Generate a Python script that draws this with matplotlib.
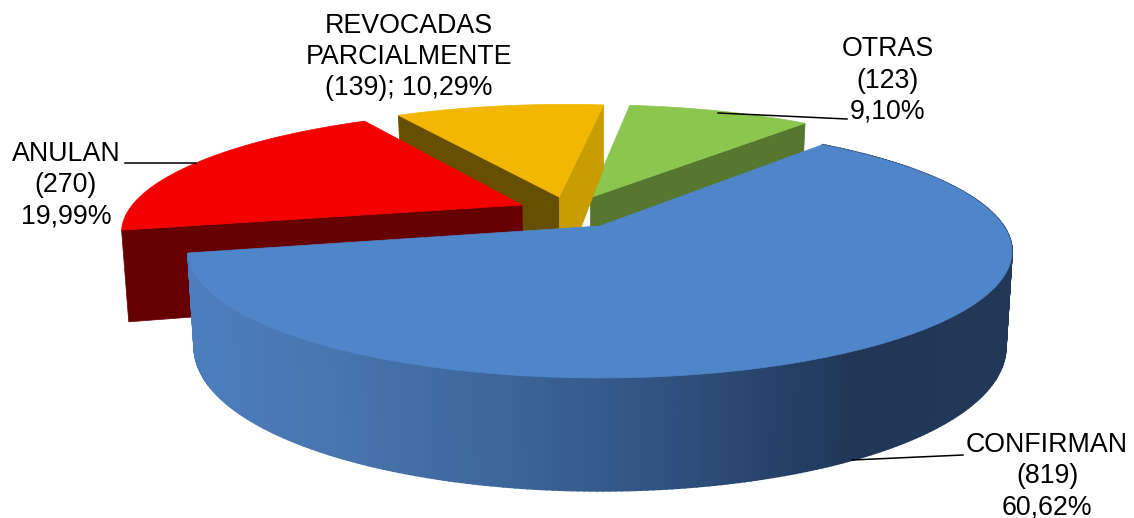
import numpy as np
import matplotlib
matplotlib.use('Agg')
import matplotlib.pyplot as plt
from matplotlib.patches import Polygon

plt.rcParams['font.family'] = ['Liberation Sans', 'DejaVu Sans']

# data, clockwise from the first slice
names = ['CONFIRMAN', 'ANULAN', 'REVOCADAS\nPARCIALMENTE', 'OTRAS']
counts = [819, 270, 139, 123]
pcts = ['60,62%', '19,99%', '10,29%', '9,10%']
seps = ['\n', '\n', '; ', '\n']

# styling
top_colors = ['#4f85c9', '#f50000', '#f2b700', '#8bc64f']
explode_u = [0, -0.2, -0.106, -0.025]
explode_v = [0, 0.179, 0.25, 0.245]
start_angle = 50.5

# projection of the tilted disc
cx, cy = 600, 226
rx, ry = 403.7, 121.6
k = 0.2
depth = 91


def proj(u, v, low=0):
    u = np.asarray(u, dtype=float)
    v = np.asarray(v, dtype=float)
    w = 1 + k * v
    x = cx + rx * u / w * (1 - 0.015 * low)
    y = cy - ry * v / w + low * depth * (1 - 0.24 * v)
    return np.column_stack([x, y])


fig = plt.figure(figsize=(11.34, 5.18), dpi=100)
ax = fig.add_axes([0, 0, 1, 1])
ax.set_xlim(0, 1134)
ax.set_ylim(518, 0)
ax.axis('off')

# slice angles from the counts
spans = np.array(counts) / sum(counts) * 360
ends = start_angle - np.cumsum(spans)
starts = ends + spans


def arc(i, n=80):
    t = np.radians(np.linspace(starts[i], ends[i], n))
    return np.cos(t) + explode_u[i], np.sin(t) + explode_v[i]


def face(i, angle, color):
    # radial side face between the centre and the rim
    t = np.radians(angle)
    u = [explode_u[i], np.cos(t) + explode_u[i]]
    v = [explode_v[i], np.sin(t) + explode_v[i]]
    pts = np.vstack([proj(u, v), proj(u[::-1], v[::-1], 1)])
    ax.add_patch(Polygon(pts, closed=True, fc=color, ec=color, lw=0.5))


def top(i):
    u, v = arc(i)
    pts = np.vstack([proj([explode_u[i]], [explode_v[i]]), proj(u, v)])
    ax.add_patch(Polygon(pts, closed=True, fc=top_colors[i], ec=top_colors[i], lw=0.5))


# back to front: green, gold, red, blue
face(3, ends[3], '#55772f')
top(3)
face(2, starts[2], '#665000')
face(2, ends[2], '#c99c00')
top(2)
face(1, starts[1], '#660000')
top(1)

# blue rim with the shading running across it
u, v = arc(0, 300)
upper = proj(u, v)
lower = proj(u, v, 1)
stop_x = [190, 330, 500, 680, 850, 1015]
stop_c = np.array([[0x4c, 0x7d, 0xbd], [0x48, 0x76, 0xb0], [0x3d, 0x66, 0x9b],
                   [0x2f, 0x50, 0x7e], [0x20, 0x37, 0x57], [0x22, 0x38, 0x59]]) / 255
for j in range(len(u) - 1):
    quad = np.vstack([upper[j:j + 2], lower[j:j + 2][::-1]])
    mx = quad[:, 0].mean()
    c = [np.interp(mx, stop_x, stop_c[:, ch]) for ch in range(3)]
    ax.add_patch(Polygon(quad, closed=True, fc=c, ec=c, lw=1.2))
top(0)

# leader lines
ax.plot([852, 963], [460, 455], color='black', lw=1.1)
ax.plot([125, 196], [162.5, 162.5], color='black', lw=1.1)
ax.plot([718, 847], [113, 119], color='black', lw=1.1)

# labels
label_x = [1047, 66, 409, 888]
label_y = [476, 185, 57, 80.5]
for i in range(4):
    txt = f'{names[i]}\n({counts[i]}){seps[i]}{pcts[i]}'
    ax.text(label_x[i], label_y[i], txt, ha='center', va='center', fontsize=19.3,
            linespacing=1.26, color='black')

fig.savefig('out.png', dpi=100)
